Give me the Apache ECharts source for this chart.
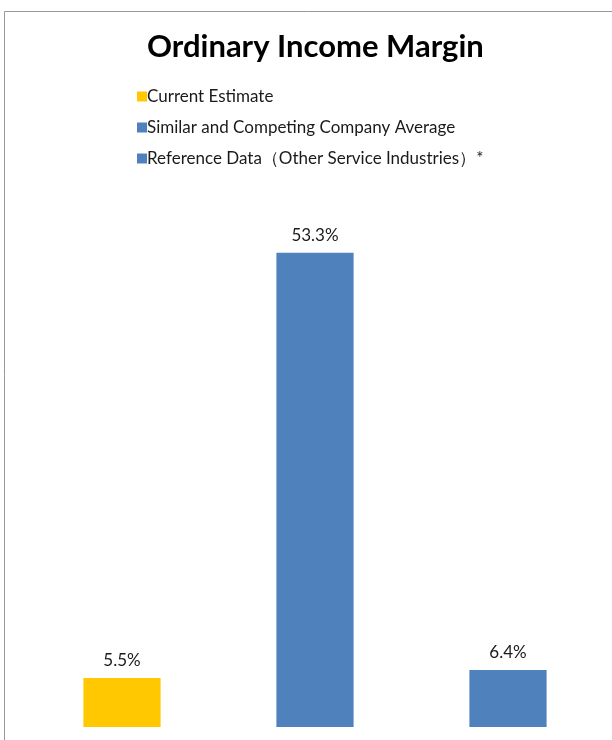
<!DOCTYPE html>
<html><head><meta charset="utf-8">
<script src="https://cdn.jsdelivr.net/npm/echarts@6/dist/echarts.min.js"></script>
<style>html,body{margin:0;padding:0;background:#fff}#c{width:612px;height:740px}</style>
</head><body><div id="c"></div>
<script>
const categories = ['Current Estimate', 'Similar and Competing Company Average', 'Reference Data\uFF08Other Service Industries\uFF09*'];
const values = [5.5, 53.3, 6.4];
const colors = ['#FFC800', '#4F81BD', '#4F81BD'];
const titleText = 'Ordinary Income Margin';

const chart = echarts.init(document.getElementById('c'));
const series = categories.map((name, i) => ({
  name: name,
  type: 'bar',
  stack: 'all',
  barWidth: '40%',
  data: values.map((v, j) => j === i ? v : '-'),
  itemStyle: { color: colors[i] },
  label: {
    show: true, position: 'top', distance: 9,
    formatter: p => p.value.toFixed(1) + '%',
    fontFamily: 'Lato', fontSize: 17, color: '#1a1a1a'
  }
}));
chart.setOption({
  animation: false,
  title: {
    text: titleText, left: 142, top: 26,
    textStyle: { fontFamily: 'Lato', fontWeight: 'bold', fontSize: 31, color: '#000' }
  },
  legend: {
    orient: 'vertical', left: 132, top: 83,
    itemWidth: 10, itemHeight: 10, itemGap: 14,
    icon: 'rect',
    textStyle: { fontFamily: 'Lato', fontSize: 17, color: '#1a1a1a', padding: [0, 0, 0, -5] },
    data: categories
  },
  grid: { left: 25.5, right: 7.5, top: 193, bottom: 13 },
  xAxis: { type: 'category', data: categories, show: false },
  yAxis: { type: 'value', min: 0, max: 60, show: false },
  graphic: [
    { type: 'line', shape: { x1: 4.5, y1: 11.5, x2: 4.5, y2: 740 }, style: { stroke: '#999', lineWidth: 1 } },
    { type: 'line', shape: { x1: 4.5, y1: 11.5, x2: 612, y2: 11.5 }, style: { stroke: '#999', lineWidth: 1 } }
  ],
  series: series
});
</script></body></html>
